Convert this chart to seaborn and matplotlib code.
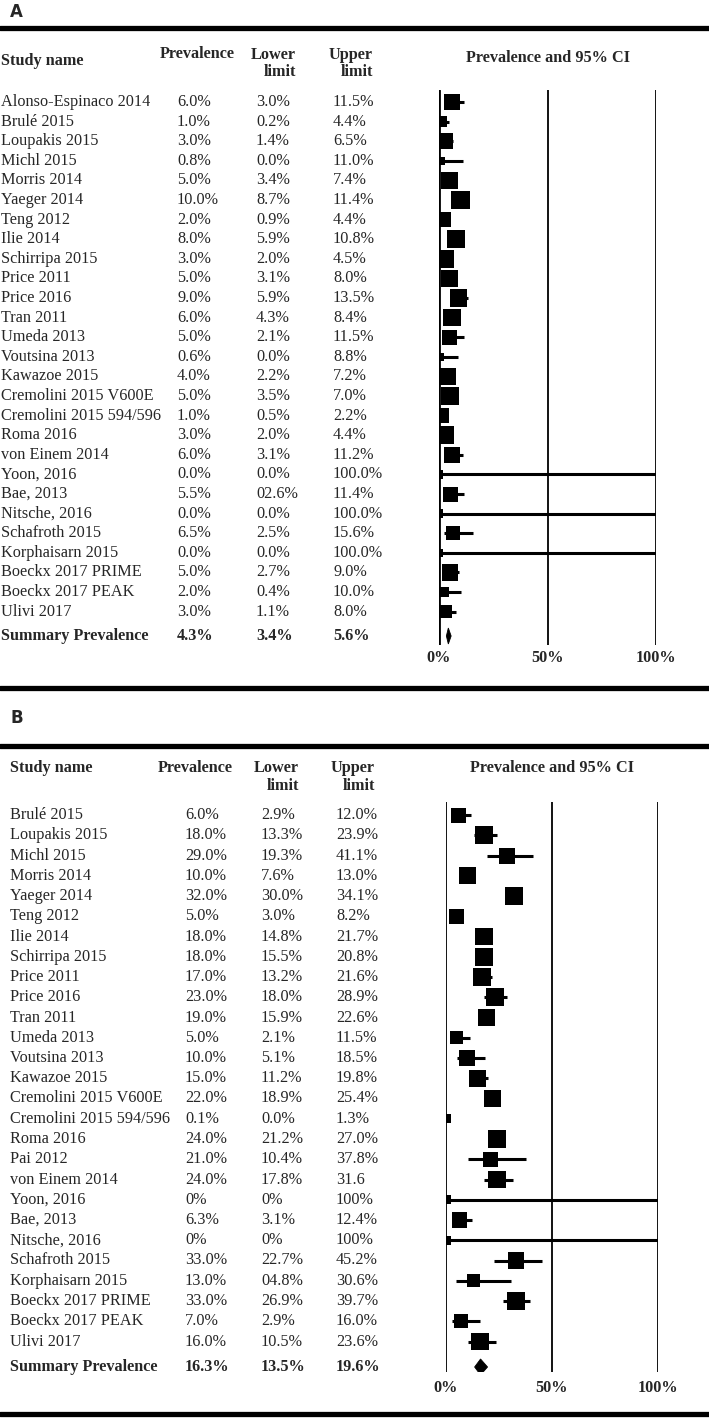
import numpy as np
import pandas as pd
import matplotlib.pyplot as plt
import matplotlib.transforms as mtransforms
from matplotlib.lines import Line2D
import seaborn as sns

# ---- Panel A data ----
studies_a = ["Alonso-Espinaco 2014", "Brulé 2015", "Loupakis 2015", "Michl 2015", "Morris 2014",
             "Yaeger 2014", "Teng 2012", "Ilie 2014", "Schirripa 2015", "Price 2011", "Price 2016",
             "Tran 2011", "Umeda 2013", "Voutsina 2013", "Kawazoe 2015", "Cremolini 2015 V600E",
             "Cremolini 2015 594/596", "Roma 2016", "von Einem 2014", "Yoon, 2016", "Bae, 2013",
             "Nitsche, 2016", "Schafroth 2015", "Korphaisarn 2015", "Boeckx 2017 PRIME",
             "Boeckx 2017 PEAK", "Ulivi 2017"]
prev_a = [6.0, 1.0, 3.0, 0.8, 5.0, 10.0, 2.0, 8.0, 3.0, 5.0, 9.0, 6.0, 5.0, 0.6, 4.0, 5.0, 1.0, 3.0,
          6.0, 0.0, 5.5, 0.0, 6.5, 0.0, 5.0, 2.0, 3.0]
lower_a = [3.0, 0.2, 1.4, 0.0, 3.4, 8.7, 0.9, 5.9, 2.0, 3.1, 5.9, 4.3, 2.1, 0.0, 2.2, 3.5, 0.5, 2.0,
           3.1, 0.0, 2.6, 0.0, 2.5, 0.0, 2.7, 0.4, 1.1]
upper_a = [11.5, 4.4, 6.5, 11.0, 7.4, 11.4, 4.4, 10.8, 4.5, 8.0, 13.5, 8.4, 11.5, 8.8, 7.2, 7.0, 2.2,
           4.4, 11.2, 100.0, 11.4, 100.0, 15.6, 100.0, 9.0, 10.0, 8.0]
prev_txt_a = ["6.0%", "1.0%", "3.0%", "0.8%", "5.0%", "10.0%", "2.0%", "8.0%", "3.0%", "5.0%", "9.0%",
              "6.0%", "5.0%", "0.6%", "4.0%", "5.0%", "1.0%", "3.0%", "6.0%", "0.0%", "5.5%", "0.0%",
              "6.5%", "0.0%", "5.0%", "2.0%", "3.0%"]
lower_txt_a = ["3.0%", "0.2%", "1.4%", "0.0%", "3.4%", "8.7%", "0.9%", "5.9%", "2.0%", "3.1%", "5.9%",
               "4.3%", "2.1%", "0.0%", "2.2%", "3.5%", "0.5%", "2.0%", "3.1%", "0.0%", "02.6%", "0.0%",
               "2.5%", "0.0%", "2.7%", "0.4%", "1.1%"]
upper_txt_a = ["11.5%", "4.4%", "6.5%", "11.0%", "7.4%", "11.4%", "4.4%", "10.8%", "4.5%", "8.0%",
               "13.5%", "8.4%", "11.5%", "8.8%", "7.2%", "7.0%", "2.2%", "4.4%", "11.2%", "100.0%",
               "11.4%", "100.0%", "15.6%", "100.0%", "9.0%", "10.0%", "8.0%"]
weight_a = [15.5, 11.5, 15.5, 8.5, 17, 18.5, 15, 18, 17.5, 17, 17.5, 17.5, 15, 8, 16.5, 17.5, 15.5,
            17.5, 16, 8.5, 15, 8.5, 14.5, 8.5, 16.5, 10.5, 13.5]
summary_a = (4.3, 3.4, 5.6)
summary_txt_a = ["4.3%", "3.4%", "5.6%"]

# ---- Panel B data ----
studies_b = ["Brulé 2015", "Loupakis 2015", "Michl 2015", "Morris 2014", "Yaeger 2014", "Teng 2012",
             "Ilie 2014", "Schirripa 2015", "Price 2011", "Price 2016", "Tran 2011", "Umeda 2013",
             "Voutsina 2013", "Kawazoe 2015", "Cremolini 2015 V600E", "Cremolini 2015 594/596",
             "Roma 2016", "Pai 2012", "von Einem 2014", "Yoon, 2016", "Bae, 2013", "Nitsche, 2016",
             "Schafroth 2015", "Korphaisarn 2015", "Boeckx 2017 PRIME", "Boeckx 2017 PEAK", "Ulivi 2017"]
prev_b = [6.0, 18.0, 29.0, 10.0, 32.0, 5.0, 18.0, 18.0, 17.0, 23.0, 19.0, 5.0, 10.0, 15.0, 22.0, 0.1,
          24.0, 21.0, 24.0, 0.0, 6.3, 0.0, 33.0, 13.0, 33.0, 7.0, 16.0]
lower_b = [2.9, 13.3, 19.3, 7.6, 30.0, 3.0, 14.8, 15.5, 13.2, 18.0, 15.9, 2.1, 5.1, 11.2, 18.9, 0.0,
           21.2, 10.4, 17.8, 0.0, 3.1, 0.0, 22.7, 4.8, 26.9, 2.9, 10.5]
upper_b = [12.0, 23.9, 41.1, 13.0, 34.1, 8.2, 21.7, 20.8, 21.6, 28.9, 22.6, 11.5, 18.5, 19.8, 25.4, 1.3,
           27.0, 37.8, 31.6, 100.0, 12.4, 100.0, 45.2, 30.6, 39.7, 16.0, 23.6]
prev_txt_b = ["6.0%", "18.0%", "29.0%", "10.0%", "32.0%", "5.0%", "18.0%", "18.0%", "17.0%", "23.0%",
              "19.0%", "5.0%", "10.0%", "15.0%", "22.0%", "0.1%", "24.0%", "21.0%", "24.0%", "0%",
              "6.3%", "0%", "33.0%", "13.0%", "33.0%", "7.0%", "16.0%"]
lower_txt_b = ["2.9%", "13.3%", "19.3%", "7.6%", "30.0%", "3.0%", "14.8%", "15.5%", "13.2%", "18.0%",
               "15.9%", "2.1%", "5.1%", "11.2%", "18.9%", "0.0%", "21.2%", "10.4%", "17.8%", "0%",
               "3.1%", "0%", "22.7%", "04.8%", "26.9%", "2.9%", "10.5%"]
upper_txt_b = ["12.0%", "23.9%", "41.1%", "13.0%", "34.1%", "8.2%", "21.7%", "20.8%", "21.6%", "28.9%",
               "22.6%", "11.5%", "18.5%", "19.8%", "25.4%", "1.3%", "27.0%", "37.8%", "31.6", "100%",
               "12.4%", "100%", "45.2%", "30.6%", "39.7%", "16.0%", "23.6%"]
weight_b = [15, 17.7, 16, 17, 18.3, 15.3, 17.7, 17.7, 17.3, 17.7, 17.3, 13.3, 15.7, 17.3, 17.7, 9,
            17.7, 15, 17.3, 9, 15.7, 9, 16.7, 13, 17.7, 14, 17.3]
summary_b = (16.3, 13.5, 19.6)
summary_txt_b = ["16.3%", "13.5%", "19.6%"]

ticks = [0, 50, 100]
tick_labels = ["0%", "50%", "100%"]

sns.set_theme(style="white")
plt.rcParams["font.family"] = ["Liberation Serif", "DejaVu Serif"]

W, H = 709, 1418
FS = 11.7
fig = plt.figure(figsize=(W / 100, H / 100), dpi=100)
fig.patch.set_facecolor("white")


def fy(y):
    return 1 - y / H


def hline(y, lw=3.8):
    fig.add_artist(Line2D([0, 1], [fy(y), fy(y)], transform=fig.transFigure, color="black", lw=lw))


def panel(studies, prev, lower, upper, ptxt, ltxt, utxt, weight, summ, stxt, cfg):
    n = len(studies)
    x0, x1 = cfg["x0"], cfg["x1"]
    top, bot = cfg["top"], cfg["bot"]
    r0, dr = cfg["row0"], cfg["dr"]
    ys = (cfg["sum_y"] - r0) / dr
    ax = fig.add_axes([x0 / W, fy(bot), (x1 - x0) / W, (bot - top) / H])
    ax.set_xlim(0, 100)
    ax.set_ylim((bot - r0) / dr, (top - r0) / dr)
    ax.axis("off")
    for t in ticks:
        ax.axvline(t, color="black", lw=cfg["vlw"] if t > 0 else cfg["zlw"], zorder=1)
    rows = np.arange(n)
    ax.hlines(rows, lower, upper, color="black", lw=2.2, zorder=2)
    df = pd.DataFrame({"prev": prev, "row": rows,
                       "s": (np.array(weight) * 0.72) ** 2})
    sns.scatterplot(data=df, x="prev", y="row", marker="s", s=df["s"].values, color="black",
                    linewidth=0, ax=ax, zorder=3, legend=False)
    est, lo, hi = summ
    h = 8 / dr
    ax.fill([lo, est, hi, est], [ys, ys - h, ys, ys + h], color="black", lw=0.6, zorder=3)
    ax.set_xlabel("")
    ax.set_ylabel("")

    tr = mtransforms.blended_transform_factory(fig.transFigure, ax.transData)
    cx = cfg["cols"]
    for i in range(n):
        ax.text(cx[0] / W, i, studies[i], transform=tr, fontsize=FS, va="center", ha="left")
        ax.text(cx[1] / W, i, ptxt[i], transform=tr, fontsize=FS, va="center", ha="left")
        ax.text(cx[2] / W, i, ltxt[i], transform=tr, fontsize=FS, va="center", ha="left")
        ax.text(cx[3] / W, i, utxt[i], transform=tr, fontsize=FS, va="center", ha="left")
    ax.text(cx[0] / W, ys, "Summary Prevalence", transform=tr, fontsize=FS, va="center",
            ha="left", fontweight="bold")
    for k in range(3):
        ax.text(cx[k + 1] / W, ys, stxt[k], transform=tr, fontsize=FS, va="center", ha="left",
                fontweight="bold")

    # headers
    hd = cfg["hdr"]
    fig.text(cx[0] / W, fy(hd["name"]), "Study name", fontsize=FS, fontweight="bold", va="center")
    fig.text(hd["prev_x"] / W, fy(hd["prev"]), "Prevalence", fontsize=FS, fontweight="bold",
             va="center", ha="center")
    fig.text(hd["low_x"] / W, fy(hd["l1"]), "Lower", fontsize=FS, fontweight="bold", va="center",
             ha="right")
    fig.text(hd["low_x"] / W, fy(hd["l2"]), "limit", fontsize=FS, fontweight="bold", va="center",
             ha="right")
    fig.text(hd["up_x"] / W, fy(hd["l1"]), "Upper", fontsize=FS, fontweight="bold", va="center",
             ha="right")
    fig.text(hd["up_x"] / W, fy(hd["l2"]), "limit", fontsize=FS, fontweight="bold", va="center",
             ha="right")
    fig.text(hd["ci_x"] / W, fy(hd["ci"]), "Prevalence and 95% CI", fontsize=FS,
             fontweight="bold", va="center", ha="center")

    # tick labels
    trx = mtransforms.blended_transform_factory(ax.transData, fig.transFigure)
    for t, lab in zip(ticks, tick_labels):
        ax.text(t, fy(cfg["tick_y"]), lab, transform=trx, fontsize=FS, fontweight="bold",
                ha="center", va="center")
    return ax


cfg_a = dict(x0=439, x1=656, top=90, bot=645, row0=102, dr=19.6, sum_y=636,
             vlw=1.3, zlw=2.0, cols=[1, 177, 256, 333], tick_y=658,
             hdr=dict(name=61, prev=54, prev_x=197, l1=55, l2=72, low_x=296, up_x=373,
                      ci=58, ci_x=548))
cfg_b = dict(x0=446, x1=658, top=802, bot=1372, row0=815, dr=20.25, sum_y=1367,
             vlw=1.3, zlw=1.3, cols=[10, 185, 261, 336], tick_y=1388,
             hdr=dict(name=768, prev=768, prev_x=195, l1=768, l2=786, low_x=299, up_x=375,
                      ci=768, ci_x=552))

panel(studies_a, prev_a, lower_a, upper_a, prev_txt_a, lower_txt_a, upper_txt_a, weight_a,
      summary_a, summary_txt_a, cfg_a)
panel(studies_b, prev_b, lower_b, upper_b, prev_txt_b, lower_txt_b, upper_txt_b, weight_b,
      summary_b, summary_txt_b, cfg_b)

# panel letters and separator rules
fig.text(10 / W, fy(12), "A", fontsize=12, fontweight="bold", family="Liberation Sans Narrow",
         va="center", ha="left")
fig.text(10 / W, fy(718), "B", fontsize=12, fontweight="bold", family="Liberation Sans Narrow",
         va="center", ha="left")
hline(28)
hline(688)
hline(746)
hline(1414)

fig.savefig("out.png", dpi=100, facecolor="white")
